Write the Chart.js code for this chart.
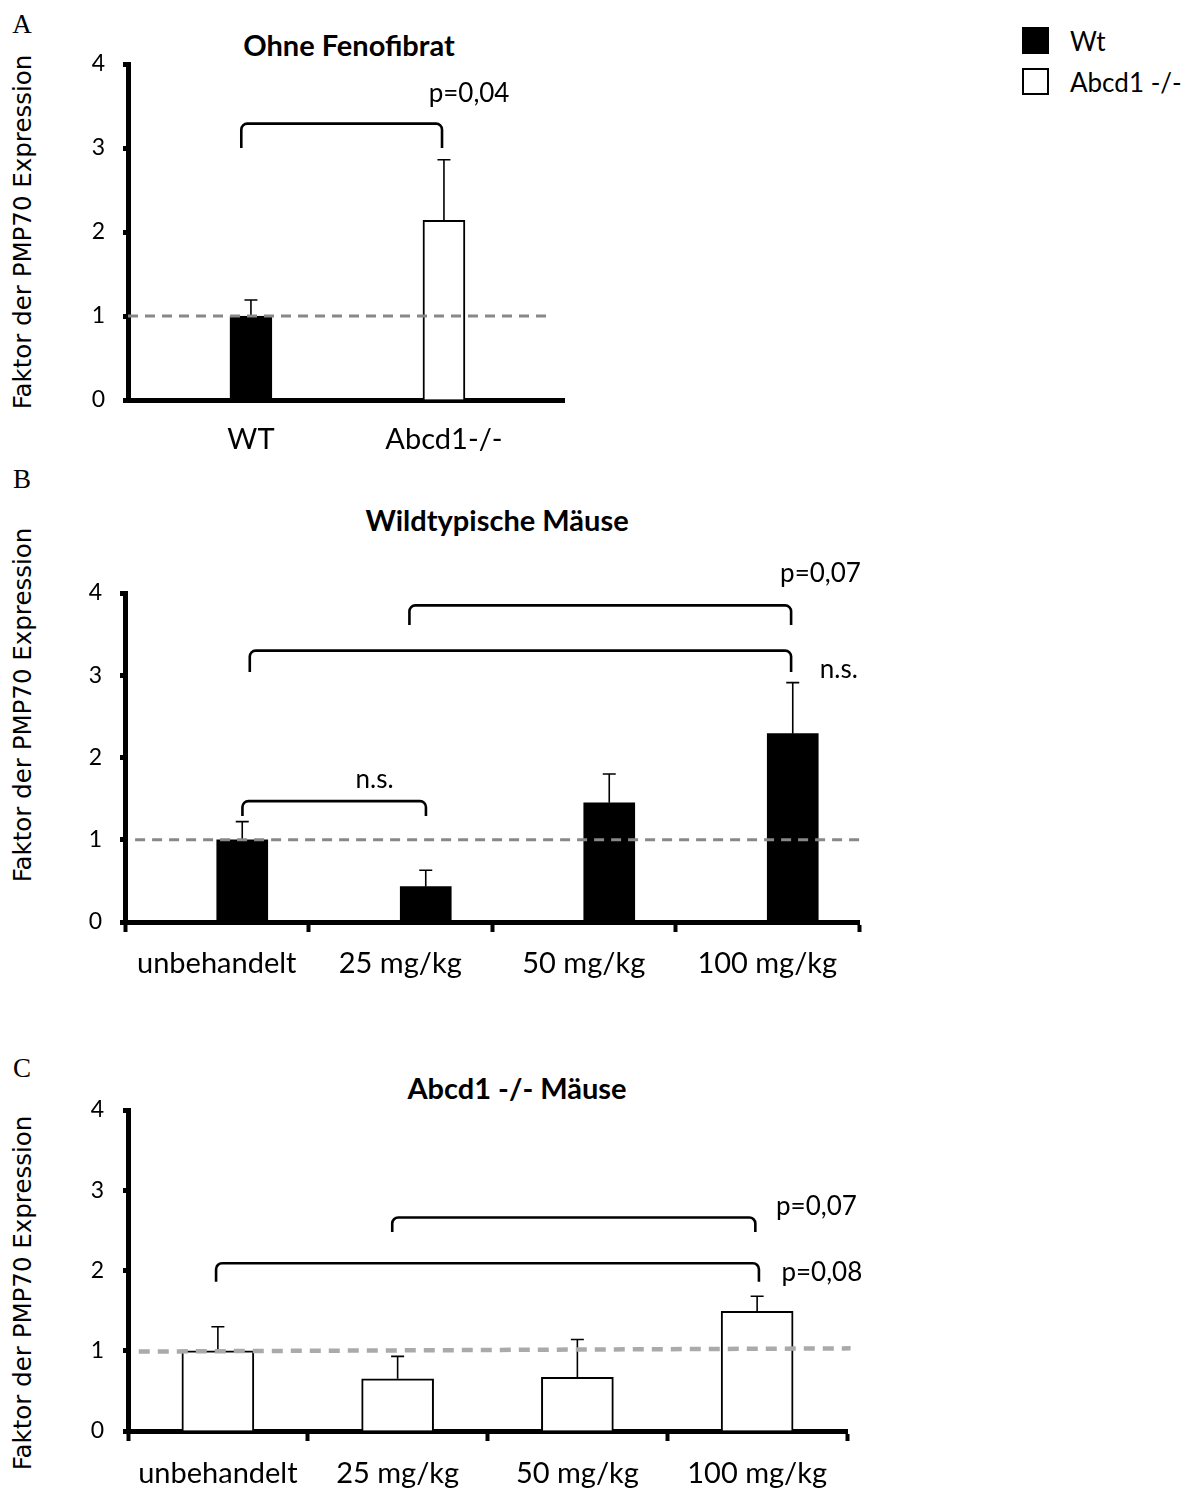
<!DOCTYPE html>
<html>
<head>
<meta charset="utf-8">
<script src="https://cdn.jsdelivr.net/npm/chart.js@4.4.0/dist/chart.umd.min.js"></script>
<style>
  body { margin: 0; background: #fff; }
  #page { position: relative; width: 1193px; height: 1490px; overflow: hidden; background: #fff; }
  #page canvas { position: absolute; left: 0; }
  .lbl { position: absolute; white-space: nowrap; color: #000; transform: translate(-50%, -50%); }
  .letter { font-family: "Liberation Serif", serif; font-size: 27px; }
  .title { font-family: Lato, sans-serif; font-weight: bold; font-size: 29px; }
  .ytitle { font-family: "DejaVu Sans", sans-serif; font-size: 24.5px; transform: translate(-50%, -50%) rotate(-90deg); }
  .legend { position: absolute; left: 1022px; top: 20px; font-family: Lato, sans-serif; font-size: 26px; }
  .legend div { display: flex; align-items: center; height: 41px; }
  .legend .box { width: 23px; height: 23px; border: 2px solid #000; margin-right: 21px; }
</style>
</head>
<body>
<div id="page">
  <div class="lbl letter" style="left:22px;top:24px">A</div>
  <div class="lbl letter" style="left:22px;top:479px">B</div>
  <div class="lbl letter" style="left:22px;top:1068px">C</div>

  <div class="lbl title" style="left:349px;top:44px">Ohne Fenofibrat</div>
  <div class="lbl title" style="left:497px;top:519px">Wildtypische Mäuse</div>
  <div class="lbl title" style="left:517px;top:1087px">Abcd1 -/- Mäuse</div>

  <div class="lbl ytitle" style="left:22px;top:232px">Faktor der PMP70 Expression</div>
  <div class="lbl ytitle" style="left:22px;top:705px">Faktor der PMP70 Expression</div>
  <div class="lbl ytitle" style="left:22px;top:1293px">Faktor der PMP70 Expression</div>

  <div class="legend">
    <div><span class="box" style="background:#000"></span>Wt</div>
    <div><span class="box" style="background:#fff"></span>Abcd1 -/-</div>
  </div>

  <canvas id="chartA" width="600" height="470" style="top:0"></canvas>
  <canvas id="chartB" width="900" height="520" style="top:470px"></canvas>
  <canvas id="chartC" width="880" height="450" style="top:1040px"></canvas>
</div>
<script>
// --- data ---
const catA = ['WT', 'Abcd1-/-'];
const meanA = [1.0, 2.14];
const errA = [0.19, 0.72];

const doses = ['unbehandelt', '25 mg/kg', '50 mg/kg', '100 mg/kg'];
const wtB = [1.0, 0.43, 1.45, 2.29];
const errB = [0.22, 0.20, 0.35, 0.62];
const koC = [1.0, 0.65, 0.67, 1.49];
const errC = [0.30, 0.28, 0.47, 0.19];

// significance brackets (category units / y values)
const bracketsA = [{ from: -0.05, to: 0.99, top: 3.29, bottom: 3.0 }];
const notesA = [{ text: 'p=0,04', x: 1.13, y: 3.65 }];
const bracketsB = [
  { from: 0.14, to: 1.14, top: 1.47, bottom: 1.29 },
  { from: 0.18, to: 3.13, top: 3.30, bottom: 3.04 },
  { from: 1.05, to: 3.13, top: 3.85, bottom: 3.61 }
];
const notesB = [
  { text: 'n.s.', x: 0.86, y: 1.73 },
  { text: 'n.s.', x: 3.39, y: 3.07 },
  { text: 'p=0,07', x: 3.29, y: 4.24 }
];
const bracketsC = [
  { from: 0.97, to: 2.99, top: 2.66, bottom: 2.48 },
  { from: -0.01, to: 3.01, top: 2.09, bottom: 1.86 }
];
const notesC = [
  { text: 'p=0,07', x: 3.33, y: 2.79 },
  { text: 'p=0,08', x: 3.36, y: 1.97 }
];

Chart.defaults.font.family = 'Lato';
Chart.defaults.color = '#000';
Chart.defaults.animation = false;

// error bars, dashed reference line, brackets and p-values
function marks(cfg) {
  return {
    id: 'marks',
    afterDatasetsDraw(chart) {
      const ctx = chart.ctx, x = chart.scales.x, y = chart.scales.y;
      ctx.save();
      ctx.strokeStyle = '#000';
      ctx.lineWidth = 1.6;
      chart.data.datasets.forEach((ds, i) => {
        if (!ds.errors) return;
        const meta = chart.getDatasetMeta(i);
        meta.data.forEach((bar, j) => {
          const v = meta.controller.getParsed(j).y;
          if (v === null || isNaN(v)) return;
          const top = y.getPixelForValue(v + ds.errors[j]);
          ctx.beginPath();
          ctx.moveTo(bar.x, bar.y);
          ctx.lineTo(bar.x, top);
          ctx.moveTo(bar.x - 6.5, top);
          ctx.lineTo(bar.x + 6.5, top);
          ctx.stroke();
        });
      });

      const r = cfg.ref;
      ctx.beginPath();
      ctx.strokeStyle = r.color;
      ctx.lineWidth = r.width;
      ctx.setLineDash(r.dash);
      ctx.moveTo(x.getPixelForValue(r.x0), y.getPixelForValue(r.y0));
      ctx.lineTo(x.getPixelForValue(r.x1), y.getPixelForValue(r.y1));
      ctx.stroke();
      ctx.setLineDash([]);

      ctx.strokeStyle = '#000';
      ctx.lineWidth = 2.6;
      cfg.brackets.forEach(b => {
        const x1 = x.getPixelForValue(b.from), x2 = x.getPixelForValue(b.to);
        const yt = y.getPixelForValue(b.top), yb = y.getPixelForValue(b.bottom);
        ctx.beginPath();
        ctx.moveTo(x1, yb);
        ctx.arcTo(x1, yt, x2, yt, 6);
        ctx.arcTo(x2, yt, x2, yb, 6);
        ctx.lineTo(x2, yb);
        ctx.stroke();
      });

      ctx.fillStyle = '#000';
      ctx.font = '26px Lato';
      ctx.textAlign = 'center';
      ctx.textBaseline = 'middle';
      cfg.notes.forEach(n => ctx.fillText(n.text, x.getPixelForValue(n.x), y.getPixelForValue(n.y)));
      ctx.restore();
    }
  };
}

function yAxis(width, pad) {
  return {
    min: 0, max: 4,
    ticks: { stepSize: 1, padding: pad, font: { size: 23 } },
    grid: { drawOnChartArea: false, tickLength: 5, tickWidth: 5, tickColor: '#000' },
    border: { color: '#000', width: 5 },
    afterFit: s => { s.width = width; }
  };
}

function catAxis(height, pad) {
  return {
    offset: true,
    ticks: { padding: pad, font: { size: 29 } },
    grid: { offset: true, drawOnChartArea: false, tickLength: 10, tickWidth: 4, tickColor: '#000' },
    border: { color: '#000', width: 5 },
    afterFit: s => { s.height = height; }
  };
}

const baseOpts = {
  responsive: false,
  animation: false,
  plugins: { legend: { display: false }, tooltip: { enabled: false } }
};

// A: without fenofibrate
new Chart(document.getElementById('chartA'), {
  type: 'bar',
  data: {
    datasets: [{
      data: meanA.map((v, i) => ({ x: i, y: v })),
      backgroundColor: ['#000', '#fff'],
      borderColor: '#000',
      borderWidth: 2,
      barThickness: 42,
      errors: errA
    }]
  },
  options: Object.assign({}, baseOpts, {
    layout: { padding: { top: 64, right: 36, left: 0, bottom: 0 }, autoPadding: false },
    scales: {
      x: {
        type: 'linear', min: -0.637, max: 1.622, offset: false,
        afterBuildTicks: s => { s.ticks = catA.map((c, i) => ({ value: i })); },
        ticks: { callback: v => catA[v], padding: 22, font: { size: 29 } },
        grid: { drawOnChartArea: false, drawTicks: false },
        border: { color: '#000', width: 5 },
        afterFit: s => { s.height = 70; }
      },
      y: yAxis(128, 18)
    }
  }),
  plugins: [marks({
    ref: { x0: -0.637, x1: 1.534, y0: 1, y1: 1, color: '#888', width: 3, dash: [10, 7] },
    brackets: bracketsA, notes: notesA
  })]
});

// B: wild type mice
new Chart(document.getElementById('chartB'), {
  type: 'bar',
  data: {
    labels: doses,
    datasets: [
      { label: 'Abcd1 -/-', data: doses.map(() => null), barThickness: 51 },
      { label: 'Wt', data: wtB, backgroundColor: '#000', borderColor: '#000', borderWidth: 0, barThickness: 51, errors: errB }
    ]
  },
  options: Object.assign({}, baseOpts, {
    layout: { padding: { top: 123, right: 41, left: 0, bottom: 0 }, autoPadding: false },
    scales: { x: catAxis(68, 14), y: yAxis(125, 18) }
  }),
  plugins: [marks({
    ref: { x0: -0.445, x1: 3.53, y0: 1, y1: 1, color: '#888', width: 3, dash: [10, 7] },
    brackets: bracketsB, notes: notesB
  })]
});

// C: Abcd1 -/- mice
new Chart(document.getElementById('chartC'), {
  type: 'bar',
  data: {
    labels: doses,
    datasets: [
      { label: 'Abcd1 -/-', data: koC, backgroundColor: '#fff', borderColor: '#000', borderWidth: 2, barThickness: 72, errors: errC }
    ]
  },
  options: Object.assign({}, baseOpts, {
    layout: { padding: { top: 70, right: 33, left: 0, bottom: 0 }, autoPadding: false },
    scales: { x: catAxis(59, 15), y: yAxis(128, 19) }
  }),
  plugins: [marks({
    ref: { x0: -0.44, x1: 3.52, y0: 0.99, y1: 1.03, color: '#aaa', width: 4.5, dash: [11, 8] },
    brackets: bracketsC, notes: notesC
  })]
});
</script>
</body>
</html>
